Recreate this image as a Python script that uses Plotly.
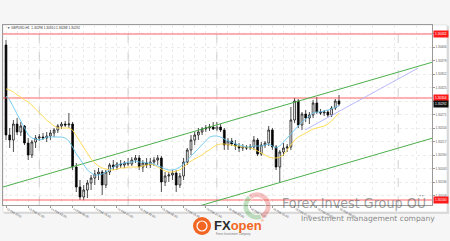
import plotly.graph_objects as go

# ---------------- data ----------------
bars = list(range(91))
opens = [1.30410,1.30230,1.30220,1.30252,1.30236,1.30248,1.30214,1.30190,1.30216,1.30224,
         1.30226,1.30224,1.30228,1.30234,1.30240,1.30248,1.30252,1.30250,1.30252,1.30166,
         1.30126,1.30106,1.30120,1.30134,1.30144,1.30152,1.30156,1.30130,1.30156,1.30170,
         1.30166,1.30172,1.30170,1.30174,1.30172,1.30180,1.30184,1.30166,1.30174,1.30170,
         1.30176,1.30180,1.30184,1.30136,1.30148,1.30150,1.30154,1.30130,1.30148,1.30176,
         1.30200,1.30220,1.30230,1.30236,1.30242,1.30244,1.30246,1.30242,1.30246,1.30240,
         1.30210,1.30218,1.30212,1.30208,1.30204,1.30206,1.30204,1.30206,1.30220,1.30192,
         1.30210,1.30214,1.30240,1.30206,1.30166,1.30196,1.30204,1.30206,1.30260,1.30298,
         1.30250,1.30272,1.30264,1.30270,1.30294,1.30276,1.30274,1.30276,1.30270,1.30284,
         1.30298]
highs = [1.30420,1.30244,1.30260,1.30264,1.30256,1.30250,1.30224,1.30220,1.30230,1.30232,
         1.30234,1.30236,1.30240,1.30244,1.30252,1.30256,1.30258,1.30274,1.30256,1.30174,
         1.30140,1.30130,1.30140,1.30150,1.30160,1.30164,1.30160,1.30160,1.30174,1.30180,
         1.30176,1.30180,1.30178,1.30184,1.30186,1.30190,1.30190,1.30180,1.30184,1.30184,
         1.30186,1.30190,1.30188,1.30156,1.30156,1.30160,1.30160,1.30154,1.30184,1.30204,
         1.30230,1.30236,1.30244,1.30246,1.30250,1.30252,1.30256,1.30256,1.30252,1.30244,
         1.30224,1.30224,1.30220,1.30214,1.30212,1.30210,1.30212,1.30228,1.30224,1.30216,
         1.30218,1.30248,1.30244,1.30210,1.30200,1.30214,1.30212,1.30286,1.30304,1.30302,
         1.30276,1.30280,1.30276,1.30300,1.30306,1.30282,1.30280,1.30280,1.30288,1.30302,
         1.30310]
lows = [1.30220,1.30204,1.30196,1.30230,1.30228,1.30210,1.30180,1.30184,1.30204,1.30218,
        1.30220,1.30216,1.30220,1.30226,1.30234,1.30242,1.30246,1.30244,1.30160,1.30116,
        1.30100,1.30100,1.30104,1.30120,1.30130,1.30140,1.30110,1.30124,1.30150,1.30160,
        1.30160,1.30164,1.30164,1.30168,1.30168,1.30174,1.30160,1.30156,1.30164,1.30164,
        1.30168,1.30170,1.30116,1.30128,1.30136,1.30140,1.30116,1.30124,1.30140,1.30170,
        1.30190,1.30210,1.30220,1.30230,1.30236,1.30238,1.30240,1.30238,1.30236,1.30200,
        1.30200,1.30208,1.30200,1.30196,1.30198,1.30200,1.30200,1.30200,1.30188,1.30188,
        1.30204,1.30208,1.30200,1.30160,1.30134,1.30188,1.30196,1.30200,1.30254,1.30244,
        1.30240,1.30256,1.30252,1.30264,1.30272,1.30270,1.30268,1.30266,1.30266,1.30280,
        1.30288]
closes = [1.30230,1.30220,1.30252,1.30236,1.30248,1.30214,1.30190,1.30216,1.30224,1.30226,
          1.30224,1.30228,1.30234,1.30240,1.30248,1.30252,1.30250,1.30252,1.30166,1.30126,
          1.30106,1.30120,1.30134,1.30144,1.30152,1.30156,1.30130,1.30156,1.30170,1.30166,
          1.30172,1.30170,1.30174,1.30172,1.30180,1.30184,1.30166,1.30174,1.30170,1.30176,
          1.30180,1.30184,1.30136,1.30148,1.30150,1.30154,1.30130,1.30148,1.30176,1.30200,
          1.30220,1.30230,1.30236,1.30242,1.30244,1.30246,1.30242,1.30246,1.30240,1.30210,
          1.30218,1.30212,1.30208,1.30204,1.30206,1.30204,1.30206,1.30220,1.30192,1.30210,
          1.30214,1.30240,1.30206,1.30166,1.30196,1.30204,1.30206,1.30260,1.30298,1.30250,
          1.30272,1.30264,1.30270,1.30294,1.30276,1.30274,1.30276,1.30270,1.30284,1.30298,
          1.30292]
ma_fast = [1.30308,1.30300,1.30286,1.30272,1.30258,1.30244,1.30230,1.30224,1.30222,1.30220,
           1.30222,1.30226,1.30226,1.30226,1.30226,1.30226,1.30224,1.30218,1.30206,1.30192,
           1.30182,1.30170,1.30160,1.30154,1.30150,1.30150,1.30152,1.30156,1.30160,1.30166,
           1.30170,1.30172,1.30174,1.30176,1.30176,1.30178,1.30176,1.30176,1.30174,1.30174,
           1.30172,1.30168,1.30166,1.30162,1.30160,1.30160,1.30162,1.30166,1.30172,1.30180,
           1.30188,1.30196,1.30204,1.30212,1.30220,1.30226,1.30228,1.30228,1.30226,1.30222,
           1.30218,1.30216,1.30212,1.30210,1.30208,1.30206,1.30206,1.30208,1.30208,1.30208,
           1.30210,1.30212,1.30208,1.30204,1.30208,1.30216,1.30224,1.30232,1.30242,1.30248,
           1.30256,1.30262,1.30268,1.30274,1.30276,1.30276,1.30278,1.30280,1.30282,1.30286,
           1.30288]
ma_slow = [1.30322,1.30320,1.30316,1.30310,1.30306,1.30300,1.30296,1.30290,1.30282,1.30274,
           1.30266,1.30260,1.30254,1.30248,1.30244,1.30244,1.30244,1.30244,1.30240,1.30228,
           1.30216,1.30204,1.30192,1.30182,1.30174,1.30168,1.30164,1.30162,1.30160,1.30160,
           1.30162,1.30164,1.30164,1.30166,1.30166,1.30166,1.30166,1.30168,1.30170,1.30172,
           1.30170,1.30166,1.30162,1.30158,1.30156,1.30156,1.30158,1.30160,1.30166,1.30172,
           1.30178,1.30182,1.30186,1.30190,1.30196,1.30200,1.30206,1.30210,1.30212,1.30212,
           1.30210,1.30210,1.30208,1.30208,1.30206,1.30206,1.30204,1.30202,1.30198,1.30194,
           1.30190,1.30186,1.30184,1.30184,1.30186,1.30190,1.30200,1.30210,1.30220,1.30226,
           1.30230,1.30234,1.30238,1.30242,1.30244,1.30246,1.30248,1.30252,1.30258,1.30266,
           1.30274]

# channel / trend lines (bar index, price)
channel_x = [-0.81, 115.4]
channel_upper = [1.30126, 1.30376]
channel_lower = [1.29974, 1.30224]
trend_x = [80.8, 111.4]
trend_y = [1.30240, 1.30364]
levels = [1.30432, 1.30304, 1.30100]
last_price = 1.30292
separators = [9, 33, 57, 106]

tick_bars = list(range(0, 91, 6))
tick_text = ["13 Feb 2019", "13 Feb 21:00", "14 Feb 03:00", "14 Feb 09:00", "14 Feb 15:00",
             "14 Feb 21:00", "15 Feb 03:00", "15 Feb 09:00", "15 Feb 15:00", "15 Feb 21:00",
             "18 Feb 03:00", "18 Feb 09:00", "18 Feb 15:00", "18 Feb 21:00", "19 Feb 03:00",
             "19 Feb 09:00"]
header = "▼ GBPUSD,H1  1.30298 1.30310 1.30288 1.30292"

x_range = [-0.81, 115.14]
y_range = [1.30090, 1.30450]

W, H = 450, 241
def px(x): return x / W
def py(y): return 1 - y / H

fig = go.Figure()

# window background
fig.add_shape(type="rect", xref="paper", yref="paper", x0=px(4), x1=px(449), y0=py(214), y1=py(26),
              fillcolor="#dcdcdc", line=dict(width=0), layer="below")
fig.add_shape(type="rect", xref="paper", yref="paper", x0=px(3), x1=px(447), y0=py(212), y1=py(25),
              fillcolor="#ffffff", line=dict(color="#cfcfcf", width=0.5), layer="below")

# period separators and horizontal levels as traces (drawn above grid, below candles)
for s in separators:
    fig.add_trace(go.Scatter(x=[s, s], y=y_range, mode="lines", hoverinfo="skip",
                             line=dict(color="#bdbdbd", width=0.7, dash="dash")))
for lv in levels:
    fig.add_trace(go.Scatter(x=x_range, y=[lv, lv], mode="lines", hoverinfo="skip",
                             line=dict(color="rgba(255,80,80,0.6)", width=1.6)))

fig.add_trace(go.Scatter(x=channel_x, y=channel_upper, mode="lines",
                         line=dict(color="#4cae4c", width=1), hoverinfo="skip"))
fig.add_trace(go.Scatter(x=channel_x, y=channel_lower, mode="lines",
                         line=dict(color="#4cae4c", width=1), hoverinfo="skip"))
fig.add_trace(go.Scatter(x=trend_x, y=trend_y, mode="lines",
                         line=dict(color="#a8a8ff", width=0.8), hoverinfo="skip"))
fig.add_trace(go.Scatter(x=bars, y=ma_slow, mode="lines",
                         line=dict(color="#ffd84a", width=0.9), hoverinfo="skip"))
fig.add_trace(go.Scatter(x=bars, y=ma_fast, mode="lines",
                         line=dict(color="#6cc8f0", width=0.9), hoverinfo="skip"))
fig.add_trace(go.Candlestick(
    x=bars, open=opens, high=highs, low=lows, close=closes,
    increasing=dict(line=dict(color="#000000", width=0.7), fillcolor="#ffffff"),
    decreasing=dict(line=dict(color="#000000", width=0.7), fillcolor="#000000"),
    whiskerwidth=0))

# decorative ring logo
fig.add_trace(go.Pie(values=[55, 45], hole=0.62, sort=False, direction="clockwise",
                     rotation=-40, textinfo="none", hoverinfo="skip",
                     marker=dict(colors=["rgba(225,80,80,0.35)", "rgba(80,170,80,0.35)"],
                                 line=dict(color="rgba(255,255,255,0.6)", width=1)),
                     domain=dict(x=[px(243), px(271)], y=[py(220), py(192)]),
                     showlegend=False))

fig.add_shape(type="circle", xref="paper", yref="paper", x0=px(193), x1=px(211), y0=py(235), y1=py(217),
              fillcolor="#f26522", line=dict(width=0))
fig.add_shape(type="circle", xref="paper", yref="paper", x0=px(197), x1=px(207), y0=py(231), y1=py(221),
              fillcolor="rgba(0,0,0,0)", line=dict(color="#ffffff", width=1.2))

ann = []
for lv in levels:
    ann.append(dict(xref="paper", yref="y", x=px(433), y=lv, xanchor="left", yanchor="middle",
                    text=f"{lv:.5f}", showarrow=False, bgcolor="#ff1a1a",
                    font=dict(size=3.2, color="#ffffff", family="Arial"), borderpad=1))
ann.append(dict(xref="paper", yref="y", x=px(433), y=last_price, xanchor="left", yanchor="middle",
                text=f"{last_price:.5f}", showarrow=False, bgcolor="#111111",
                font=dict(size=3.2, color="#ffffff", family="Arial"), borderpad=1))
ann.append(dict(xref="paper", yref="paper", x=px(5), y=py(27.5), xanchor="left", yanchor="middle",
                text=header, showarrow=False, font=dict(size=3.2, color="#333333", family="Arial")))
ann.append(dict(xref="paper", yref="paper", x=px(280), y=py(202), xanchor="left", yanchor="middle",
                text="Forex Invest Group OÜ", showarrow=False,
                font=dict(size=14.2, color="rgba(95,95,95,0.6)",
                          family="DejaVu Sans Condensed, Liberation Sans Narrow, Arial")))
ann.append(dict(xref="paper", yref="paper", x=px(299), y=py(218.5), xanchor="left", yanchor="middle",
                text="Investment management company", showarrow=False,
                font=dict(size=7.6, color="#8a8a8a", family="DejaVu Sans, Arial")))
ann.append(dict(xref="paper", yref="paper", x=px(212), y=py(225), xanchor="left", yanchor="middle",
                text="<b>FX<span style='color:#f26522'>open</span></b>", showarrow=False,
                font=dict(size=13, color="#2b2b2b", family="Arial")))
ann.append(dict(xref="paper", yref="paper", x=px(259), y=py(220), xanchor="left", yanchor="middle",
                text="®", showarrow=False, font=dict(size=4, color="#f26522", family="Arial")))
ann.append(dict(xref="paper", yref="paper", x=px(214), y=py(233.5), xanchor="left", yanchor="middle",
                text="Forex Investment Company", showarrow=False,
                font=dict(size=2.8, color="#777777", family="Arial")))

fig.update_layout(
    width=W, height=H, margin=dict(l=0, r=0, t=0, b=0),
    paper_bgcolor="#f6f6f6", plot_bgcolor="#ffffff",
    showlegend=False, annotations=ann,
    xaxis=dict(domain=[px(3), px(432)], range=x_range,
               rangeslider=dict(visible=False),
               tickmode="array", tickvals=tick_bars, ticktext=tick_text,
               ticklabelposition="outside right",
               tickfont=dict(size=3, color="#555555", family="Arial"),
               ticks="outside", ticklen=2, tickcolor="#999999",
               showgrid=True, gridcolor="#ececec", griddash="dot", gridwidth=0.6,
               minor=dict(tickmode="linear", tick0=3, dtick=6, showgrid=True,
                          gridcolor="#ececec", griddash="dot", gridwidth=0.6),
               showline=True, linecolor="#9a9a9a", linewidth=0.8, mirror=True,
               zeroline=False, fixedrange=True),
    yaxis=dict(domain=[py(205), py(25)], range=y_range, side="right",
               tickmode="linear", tick0=1.30406, dtick=0.00027, tickformat=".5f",
               tickfont=dict(size=3, color="#555555", family="Arial"),
               ticks="outside", ticklen=2, tickcolor="#999999",
               showgrid=True, gridcolor="#ececec", griddash="dot", gridwidth=0.6,
               showline=True, linecolor="#9a9a9a", linewidth=0.8, mirror=True,
               zeroline=False, fixedrange=True),
)

fig.write_html("out.html")
